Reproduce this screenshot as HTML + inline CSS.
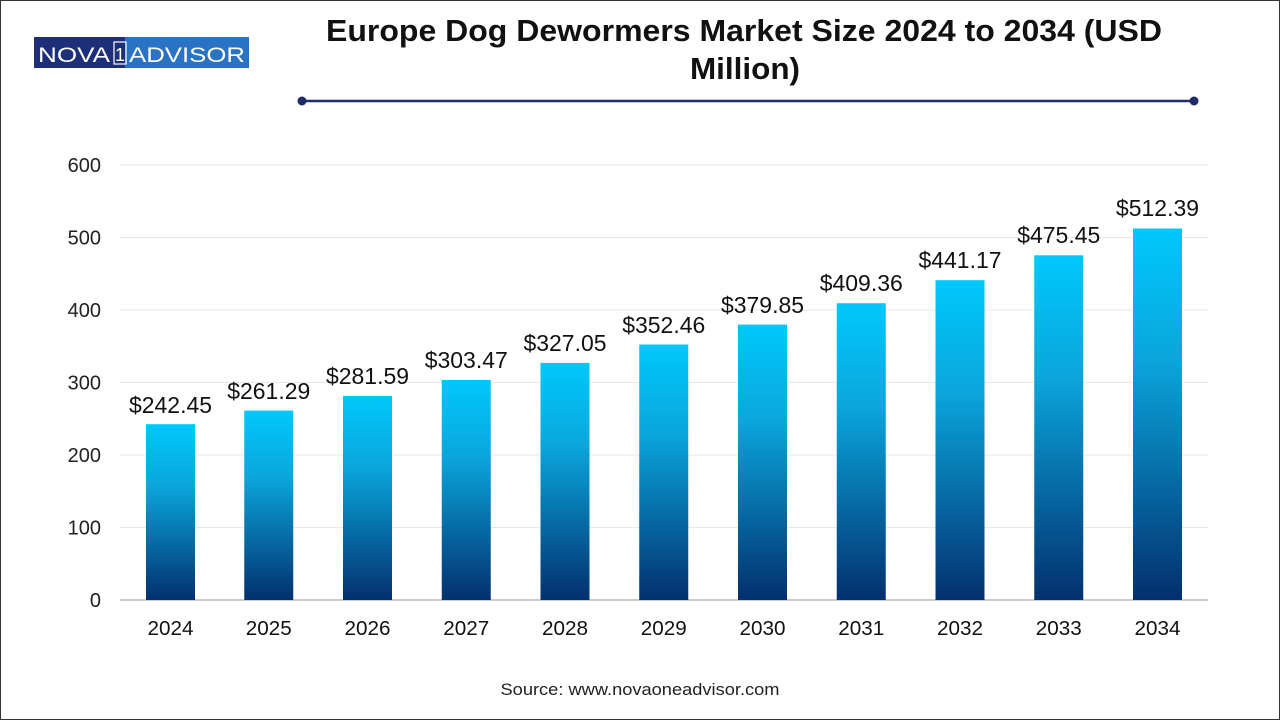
<!DOCTYPE html>
<html><head><meta charset="utf-8"><style>
html,body{margin:0;padding:0;background:#fff}
svg{display:block}
</style></head><body>
<svg width="1280" height="720" xmlns="http://www.w3.org/2000/svg" font-family="Liberation Sans, Arial, sans-serif">
<defs>
<linearGradient id="g" x1="0" y1="0" x2="0" y2="1">
<stop offset="0" stop-color="#00c8fb"/>
<stop offset="0.35" stop-color="#0aa6dc"/>
<stop offset="1" stop-color="#03306e"/>
</linearGradient>
</defs>
<rect x="0.5" y="0.5" width="1279" height="719" fill="#fff" stroke="#333" stroke-width="1"/>
<rect x="34" y="37" width="91" height="31" fill="#1c2f78"/>
<rect x="125" y="37" width="124" height="31" fill="#2a73c2"/>
<text x="38" y="62" font-size="21" fill="#fff" textLength="72" lengthAdjust="spacingAndGlyphs">NOVA</text>
<rect x="114" y="42" width="12" height="22" fill="none" stroke="#fff" stroke-width="1.2"/>
<text x="120" y="61" font-size="18" fill="#fff" text-anchor="middle">1</text>
<text x="129" y="62" font-size="21" fill="#fff" textLength="116" lengthAdjust="spacingAndGlyphs">ADVISOR</text>
<text x="744" y="41" font-size="31" font-weight="bold" text-anchor="middle" fill="#111" textLength="836" lengthAdjust="spacingAndGlyphs">Europe Dog Dewormers Market Size 2024 to 2034 (USD</text>
<text x="745" y="79" font-size="31" font-weight="bold" text-anchor="middle" fill="#111" textLength="110" lengthAdjust="spacingAndGlyphs">Million)</text>
<line x1="302" y1="101" x2="1194" y2="101" stroke="#1f2c66" stroke-width="2.5"/>
<circle cx="302" cy="101" r="4.5" fill="#1f2c66"/>
<circle cx="1194" cy="101" r="4.5" fill="#1f2c66"/>
<g stroke="#e8e8e8" stroke-width="1">
<line x1="120" y1="165" x2="1208" y2="165"/>
<line x1="120" y1="237.5" x2="1208" y2="237.5"/>
<line x1="120" y1="310" x2="1208" y2="310"/>
<line x1="120" y1="382.5" x2="1208" y2="382.5"/>
<line x1="120" y1="455" x2="1208" y2="455"/>
<line x1="120" y1="527.5" x2="1208" y2="527.5"/>
</g>
<g font-size="20" fill="#222" text-anchor="end">
<text x="101" y="172">600</text><text x="101" y="244.5">500</text><text x="101" y="317">400</text>
<text x="101" y="389.5">300</text><text x="101" y="462">200</text><text x="101" y="534.5">100</text><text x="101" y="607">0</text>
</g>
<line x1="120" y1="600" x2="1208" y2="600" stroke="#bbb" stroke-width="1.5"/>
<text x="640" y="695" font-size="17" text-anchor="middle" fill="#222" textLength="279" lengthAdjust="spacingAndGlyphs">Source: www.novaoneadvisor.com</text>
<g font-size="23" fill="#111" text-anchor="middle">
<rect x="146" y="424.2" width="49" height="175.8" fill="url(#g)"/><text x="170.5" y="413" textLength="83" lengthAdjust="spacingAndGlyphs">$242.45</text><text x="170.5" y="635" font-size="20" textLength="46" lengthAdjust="spacingAndGlyphs">2024</text>
<rect x="244.25" y="410.6" width="49" height="189.4" fill="url(#g)"/><text x="268.75" y="399" textLength="83" lengthAdjust="spacingAndGlyphs">$261.29</text><text x="268.75" y="635" font-size="20" textLength="46" lengthAdjust="spacingAndGlyphs">2025</text>
<rect x="343" y="395.9" width="49" height="204.1" fill="url(#g)"/><text x="367.5" y="384" textLength="83" lengthAdjust="spacingAndGlyphs">$281.59</text><text x="367.5" y="635" font-size="20" textLength="46" lengthAdjust="spacingAndGlyphs">2026</text>
<rect x="441.75" y="380" width="49" height="220" fill="url(#g)"/><text x="466.25" y="368" textLength="83" lengthAdjust="spacingAndGlyphs">$303.47</text><text x="466.25" y="635" font-size="20" textLength="46" lengthAdjust="spacingAndGlyphs">2027</text>
<rect x="540.5" y="362.9" width="49" height="237.1" fill="url(#g)"/><text x="565" y="351" textLength="83" lengthAdjust="spacingAndGlyphs">$327.05</text><text x="565" y="635" font-size="20" textLength="46" lengthAdjust="spacingAndGlyphs">2028</text>
<rect x="639.25" y="344.5" width="49" height="255.5" fill="url(#g)"/><text x="663.75" y="333" textLength="83" lengthAdjust="spacingAndGlyphs">$352.46</text><text x="663.75" y="635" font-size="20" textLength="46" lengthAdjust="spacingAndGlyphs">2029</text>
<rect x="738" y="324.6" width="49" height="275.4" fill="url(#g)"/><text x="762.5" y="313" textLength="83" lengthAdjust="spacingAndGlyphs">$379.85</text><text x="762.5" y="635" font-size="20" textLength="46" lengthAdjust="spacingAndGlyphs">2030</text>
<rect x="836.75" y="303.2" width="49" height="296.8" fill="url(#g)"/><text x="861.25" y="291" textLength="83" lengthAdjust="spacingAndGlyphs">$409.36</text><text x="861.25" y="635" font-size="20" textLength="46" lengthAdjust="spacingAndGlyphs">2031</text>
<rect x="935.5" y="280.2" width="49" height="319.8" fill="url(#g)"/><text x="960" y="268" textLength="83" lengthAdjust="spacingAndGlyphs">$441.17</text><text x="960" y="635" font-size="20" textLength="46" lengthAdjust="spacingAndGlyphs">2032</text>
<rect x="1034.25" y="255.3" width="49" height="344.7" fill="url(#g)"/><text x="1058.75" y="243" textLength="83" lengthAdjust="spacingAndGlyphs">$475.45</text><text x="1058.75" y="635" font-size="20" textLength="46" lengthAdjust="spacingAndGlyphs">2033</text>
<rect x="1133" y="228.5" width="49" height="371.5" fill="url(#g)"/><text x="1157.5" y="216" textLength="83" lengthAdjust="spacingAndGlyphs">$512.39</text><text x="1157.5" y="635" font-size="20" textLength="46" lengthAdjust="spacingAndGlyphs">2034</text>
</g>
</svg>
</body></html>
